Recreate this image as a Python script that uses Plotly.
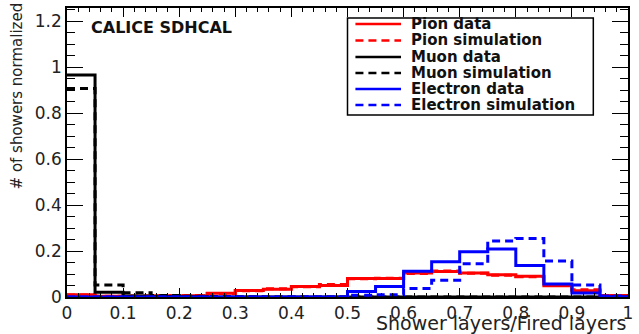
import plotly.graph_objects as go

# bin edges (20 bins of 0.05)
bin_edges = [round(0.05 * i, 2) for i in range(21)]

pion_data = [0.010, 0.003, 0.003, 0.005, 0.005, 0.016, 0.028, 0.034, 0.046, 0.050,
             0.080, 0.080, 0.104, 0.111, 0.104, 0.097, 0.090, 0.049, 0.027, 0.006]
pion_sim = [0.009, 0.003, 0.004, 0.005, 0.006, 0.015, 0.027, 0.036, 0.045, 0.054,
            0.079, 0.081, 0.102, 0.113, 0.103, 0.095, 0.088, 0.050, 0.031, 0.007]
muon_data = [0.965, 0.021, 0.004, 0.002, 0.001, 0.0, 0.0, 0.0, 0.0, 0.0,
             0.0, 0.0, 0.0, 0.0, 0.0, 0.0, 0.0, 0.0, 0.0, 0.0]
muon_sim = [0.907, 0.052, 0.018, 0.007, 0.003, 0.002, 0.001, 0.0, 0.0, 0.0,
            0.0, 0.0, 0.0, 0.0, 0.0, 0.0, 0.0, 0.0, 0.0, 0.0]
elec_data = [0.0, 0.0, 0.0, 0.0, 0.0, 0.0, 0.0, 0.0, 0.0, 0.0,
             0.024, 0.046, 0.112, 0.153, 0.197, 0.209, 0.137, 0.056, 0.017, 0.001]
elec_sim = [0.0, 0.0, 0.0, 0.0, 0.0, 0.0, 0.0, 0.0, 0.0, 0.0,
            0.008, 0.010, 0.037, 0.073, 0.145, 0.243, 0.254, 0.156, 0.052, 0.004]

series_names = ["Pion data", "Pion simulation", "Muon data", "Muon simulation",
                "Electron data", "Electron simulation"]
series_values = [pion_data, pion_sim, muon_data, muon_sim, elec_data, elec_sim]
series_colors = ["#ff0000", "#ff0000", "#000000", "#000000", "#0000ff", "#0000ff"]
series_dash = ["solid", "8px,5px", "solid", "8px,5px", "solid", "8px,5px"]

x_ticks = [0, 0.1, 0.2, 0.3, 0.4, 0.5, 0.6, 0.7, 0.8, 0.9, 1]
x_tick_labels = ["0", "0.1", "0.2", "0.3", "0.4", "0.5", "0.6", "0.7", "0.8", "0.9", "1"]
y_ticks = [0, 0.2, 0.4, 0.6, 0.8, 1.0, 1.2]
y_tick_labels = ["0", "0.2", "0.4", "0.6", "0.8", "1", "1.2"]

W, H = 639, 334
L, R, T, B = 67, 6, 8, 37
pw, ph = W - L - R, H - T - B


def px(xp):
    return (xp - L) / pw


def py(yp):
    return (H - B - yp) / ph


fig = go.Figure()
for name, vals, col, dash in zip(series_names, series_values, series_colors, series_dash):
    fig.add_trace(go.Scatter(
        x=bin_edges, y=vals + [vals[-1]], mode="lines", line_shape="hv",
        line=dict(color=col, width=3, dash=dash), name=name, showlegend=False,
        hoverinfo="skip"))

font_main = "DejaVu Sans"
axis_common = dict(
    ticks="inside", showline=True, linecolor="black", linewidth=1.5,
    mirror="ticks", tickcolor="black", tickwidth=1.2, showgrid=False, zeroline=False,
    tickfont=dict(family=font_main, size=17, color="#222222"),
)
fig.update_xaxes(range=[0, 1], tickmode="array", tickvals=x_ticks, ticktext=x_tick_labels,
                 ticklen=9, minor=dict(dtick=0.02, ticklen=4.5, ticks="inside",
                                       tickcolor="black", tickwidth=1.2),
                 **axis_common)
fig.update_yaxes(range=[0, (H - B - T) / 230.0], tickmode="array", tickvals=y_ticks,
                 ticktext=y_tick_labels, ticklen=16,
                 minor=dict(dtick=0.05, ticklen=8, ticks="inside",
                            tickcolor="black", tickwidth=1.2),
                 **axis_common)

annotations = []
shapes = []
# Legend box
shapes.append(dict(type="rect", xref="paper", yref="paper", x0=px(350), x1=px(598),
                   y0=py(115), y1=py(18), line=dict(color="black", width=1.5),
                   fillcolor="white", layer="above"))
row_y = [24, 40.5, 57, 73, 89, 105]
for i, (name, col, dash) in enumerate(zip(series_names, series_colors, series_dash)):
    shapes.append(dict(type="line", xref="paper", yref="paper", x0=px(358), x1=px(404),
                       y0=py(row_y[i]), y1=py(row_y[i]),
                       line=dict(color=col, width=2.5, dash=dash), layer="above"))
    annotations.append(dict(xref="paper", yref="paper", x=px(412), y=py(row_y[i]),
                            text=name, showarrow=False, xanchor="left", yanchor="middle",
                            font=dict(family=font_main, size=15, color="#111111", weight="bold")))

annotations.append(dict(xref="paper", yref="paper", x=px(89), y=py(27),
                        text="CALICE SDHCAL", showarrow=False, xanchor="left",
                        yanchor="middle",
                        font=dict(family=font_main, size=16, color="#111111", weight="bold")))
annotations.append(dict(xref="paper", yref="paper", x=px(633), y=py(323),
                        text="Shower layers/Fired layers", showarrow=False,
                        xanchor="right", yanchor="middle",
                        font=dict(family=font_main, size=19, color="#222222")))
annotations.append(dict(xref="paper", yref="paper", x=px(17), y=py(96),
                        text="# of showers normalized", showarrow=False, textangle=-90,
                        xanchor="center", yanchor="middle",
                        font=dict(family=font_main, size=15, color="#222222")))

fig.update_layout(width=W, height=H, margin=dict(l=L, r=R, t=T, b=B),
                  paper_bgcolor="white", plot_bgcolor="white",
                  showlegend=False, shapes=shapes, annotations=annotations)

fig.write_html("out.html")
